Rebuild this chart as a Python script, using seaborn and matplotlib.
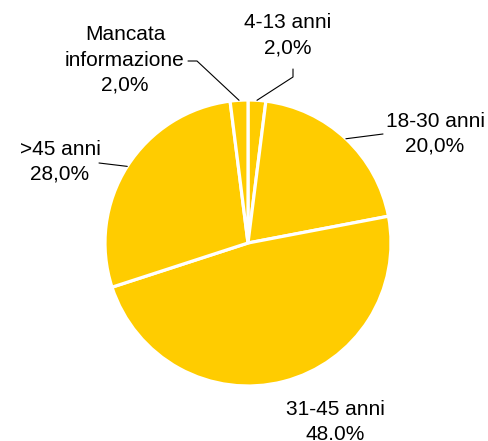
import numpy as np
import seaborn as sns
import matplotlib.pyplot as plt

sns.set_style("white")
plt.rcParams['font.family'] = ['Liberation Sans', 'DejaVu Sans']

# data
categories = ["4-13 anni", "18-30 anni", "31-45 anni", ">45 anni", "Mancata\ninformazione"]
shares = [2.0, 20.0, 48.0, 28.0, 2.0]
pct_labels = ["2,0%", "20,0%", "48.0%", "28,0%", "2,0%"]

W, H = 488, 441
fig = plt.figure(figsize=(W / 100, H / 100), dpi=100)
ax = fig.add_axes([0, 0, 1, 1])
ax.set_xlim(0, W)
ax.set_ylim(0, H)
ax.set_aspect("equal")
ax.axis("off")

cx, cy, r = 248, H - 243, 143
colors = sns.color_palette(["#FFCC00"] * len(shares))
wedges, _ = ax.pie(shares, colors=colors, startangle=90, counterclock=False,
                   center=(cx, cy), radius=r,
                   wedgeprops=dict(edgecolor="white", linewidth=2.3))
ax.set_xlim(0, W)
ax.set_ylim(0, H)

# label centres (pixels, top-left origin) and leader line bends
label_pos = [(288, 35), (435, 134), (335, 422), (60, 162), (125, 60)]
bends = [[(293, 77), (293, 69)], [(383, 134)], None, [(99, 163)], [(197, 61), (188, 61)]]

for w, cat, pct, (lx, ly), bend in zip(wedges, categories, pct_labels, label_pos, bends):
    ax.text(lx, H - ly, f"{cat}\n{pct}", ha="center", va="center",
            fontsize=15, linespacing=1.4, color="black")
    if bend is None:
        continue
    mid = np.deg2rad((w.theta1 + w.theta2) / 2)
    xs = [cx + r * np.cos(mid)] + [b[0] for b in bend]
    ys = [cy + r * np.sin(mid)] + [H - b[1] for b in bend]
    ax.plot(xs, ys, color="black", lw=0.8)

fig.savefig("out.png", dpi=100)
